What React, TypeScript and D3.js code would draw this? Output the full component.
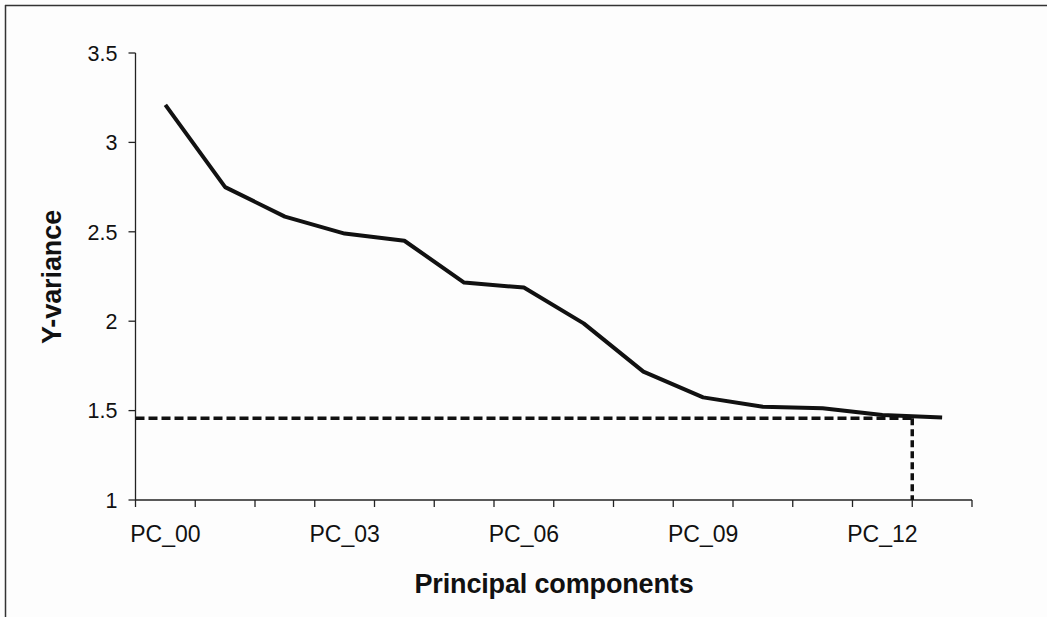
import React from "react";
import * as d3 from "d3";

const categories = ["PC_00","PC_01","PC_02","PC_03","PC_04","PC_05","PC_06","PC_07","PC_08","PC_09","PC_10","PC_11","PC_12","PC_13"];
const yVariance = [3.21, 2.75, 2.585, 2.49, 2.45, 2.216, 2.188, 1.988, 1.718, 1.574, 1.522, 1.513, 1.475, 1.462];
const yTicks = [1, 1.5, 2, 2.5, 3, 3.5];
const labeledCategories = ["PC_00", "PC_03", "PC_06", "PC_09", "PC_12"];
const thresholdValue = 1.457;
const thresholdCategory = "PC_12";

const W = 1047, H = 617;
const plot = { left: 135.5, right: 972, top: 53, bottom: 500 };
const FONT = "'Liberation Sans', Arial, sans-serif";

export default function App() {
  const x = d3.scaleBand<string>().domain(categories).range([plot.left, plot.right]).paddingInner(0).paddingOuter(0);
  const y = d3.scaleLinear().domain([1, 3.5]).range([plot.bottom, plot.top]);
  const bw = x.bandwidth();
  const cx = (c: string) => (x(c) as number) + bw / 2;

  const line = d3.line<number>().x((_, i) => cx(categories[i])).y((d) => y(d));

  const boundaries = d3.range(categories.length + 1).map((i) => plot.left + i * bw);
  const vx = (x(thresholdCategory) as number) + bw;

  return (
    <svg width={W} height={H} style={{ position: "absolute", left: 0, top: 0, background: "#fff" }} fontFamily={FONT}>
      <rect x={0} y={0} width={W} height={H} fill="#fdfdfd" />
      {/* frame (top + left visible) */}
      <line x1={5} y1={5.5} x2={W} y2={5.5} stroke="#333" strokeWidth={1.5} />
      <line x1={5.5} y1={5} x2={5.5} y2={H} stroke="#333" strokeWidth={1.5} />

      {/* y axis */}
      <line x1={plot.left} y1={y(3.5)} x2={plot.left} y2={plot.bottom} stroke="#222" strokeWidth={1.3} />
      {yTicks.map((t) => (
        <g key={t}>
          <line x1={plot.left - 7} x2={plot.left} y1={y(t)} y2={y(t)} stroke="#222" strokeWidth={1.3} />
          <text x={plot.left - 18} y={y(t)} dy="0.36em" textAnchor="end" fontSize={21.5} fill="#111">{t}</text>
        </g>
      ))}

      {/* x axis */}
      <line x1={plot.left} y1={plot.bottom} x2={plot.right} y2={plot.bottom} stroke="#222" strokeWidth={1.3} />
      {boundaries.map((bx, i) => (
        <line key={i} x1={bx} x2={bx} y1={plot.bottom} y2={plot.bottom + 7} stroke="#222" strokeWidth={1.3} />
      ))}
      {labeledCategories.map((c) => (
        <text key={c} x={cx(c)} y={542} textAnchor="middle" fontSize={23} fill="#111">{c}</text>
      ))}

      {/* threshold dashed lines */}
      <line x1={plot.left} x2={vx} y1={y(thresholdValue)} y2={y(thresholdValue)} stroke="#111" strokeWidth={3.5} strokeDasharray="9,4" />
      <line x1={vx} x2={vx} y1={y(thresholdValue)} y2={plot.bottom} stroke="#111" strokeWidth={3.5} strokeDasharray="7,4" />

      {/* data line */}
      <path d={line(yVariance) || ""} fill="none" stroke="#111" strokeWidth={4} strokeLinejoin="round" />

      {/* axis titles */}
      <text x={554} y={593} textAnchor="middle" fontSize={27} fontWeight="bold" fill="#111" letterSpacing={-0.15}>Principal components</text>
      <text transform={`translate(61,277) rotate(-90)`} textAnchor="middle" fontSize={27} fontWeight="bold" fill="#111" letterSpacing={-0.1}>Y-variance</text>
    </svg>
  );
}
